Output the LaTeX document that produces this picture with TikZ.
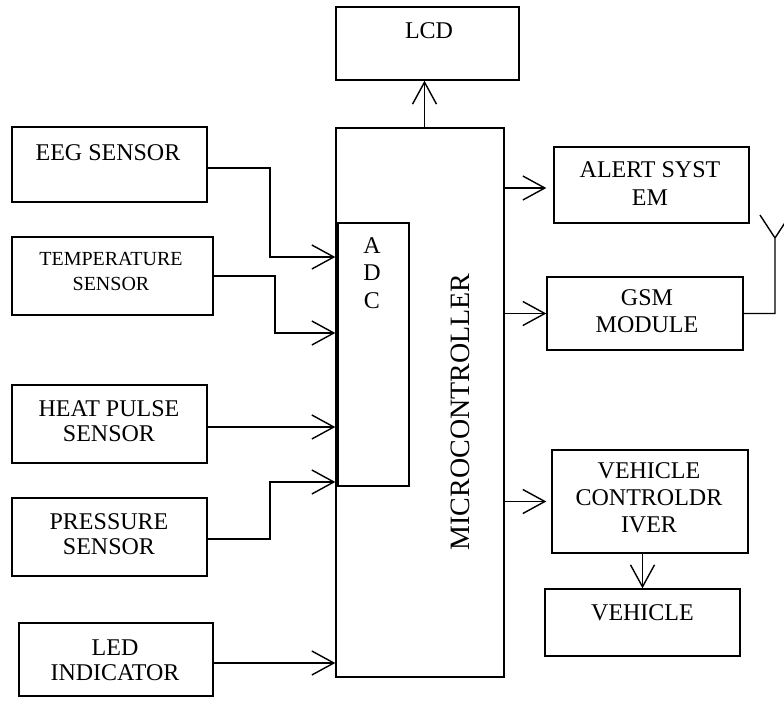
\documentclass[tikz,border=0pt]{standalone}
\usepackage{fontspec}
\setmainfont{Liberation Serif}
\usetikzlibrary{arrows.meta}

\tikzset{
  blk/.style={draw,inner sep=0pt},
  txt/.style={align=center,font=\fontsize{12}{12.5}\selectfont}
}

\begin{document}
\begin{tikzpicture}[x=0.5pt,y=-0.5pt,line width=0.7pt,
    >={Straight Barb[length=11pt,width=12pt]}]

  \useasboundingbox (0,0) rectangle (784,702);

  % controller and display
  \node[blk,minimum width=91.5pt,minimum height=36.5pt] (lcd) at (427.5,43.5) {};
  \node[txt] (lcdtxt) at (429,31) {LCD};
  \node[blk,minimum width=84pt,minimum height=274.5pt] (mc) at (420,402.5) {};
  \node[blk,minimum width=35.5pt,minimum height=131.5pt] (adc) at (373.5,354.5) {};
  \node[txt,font=\fontsize{12}{13.75}\selectfont] (adctxt) at (372,273) {A\\D\\C};
  \node[txt,font=\fontsize{14}{14}\selectfont,rotate=90] (mctxt) at (460,412) {MICROCONTROLLER};

  % sensors
  \node[blk,minimum width=97.5pt,minimum height=37.5pt] (eeg) at (109.5,164.5) {};
  \node[txt] (eegtxt) at (108,153) {EEG SENSOR};
  \node[blk,minimum width=100.5pt,minimum height=39pt] (temp) at (112.5,276) {};
  \node[txt,font=\fontsize{10}{12.5}\selectfont] (temptxt) at (111,271) {TEMPERATURE\\SENSOR};
  \node[blk,minimum width=97.5pt,minimum height=39pt] (heat) at (109.5,424) {};
  \node[txt] (heattxt) at (109,421) {HEAT PULSE\\SENSOR};
  \node[blk,minimum width=97.5pt,minimum height=39pt] (pres) at (109.5,537) {};
  \node[txt] (prestxt) at (109,534) {PRESSURE\\SENSOR};
  \node[blk,minimum width=97pt,minimum height=36.5pt] (led) at (116,659.5) {};
  \node[txt] (ledtxt) at (115,660) {LED\\INDICATOR};

  % outputs
  \node[blk,minimum width=97.5pt,minimum height=38pt] (alert) at (651.5,185) {};
  \node[txt,font=\fontsize{12}{14}\selectfont] (alerttxt) at (650,184) {ALERT SYST\\EM};
  \node[blk,minimum width=98pt,minimum height=36.5pt] (gsm) at (645,313.5) {};
  \node[txt,font=\fontsize{12}{13.5}\selectfont] (gsmtxt) at (647,311) {GSM\\MODULE};
  \node[blk,minimum width=98pt,minimum height=51.5pt] (vcd) at (650,501.5) {};
  \node[txt,font=\fontsize{12}{13.5}\selectfont] (vcdtxt) at (649,498) {VEHICLE\\CONTROLDR\\IVER};
  \node[blk,minimum width=97.5pt,minimum height=33.5pt] (veh) at (642.5,622.5) {};
  \node[txt] (vehtxt) at (642.5,613) {VEHICLE};

  % inputs
  \draw[->] ([yshift=-1.75pt]eeg.east) -- (270,168) |- (mc.west |- 0,257);
  \draw[->] (temp.east) -- (275,276) |- (mc.west |- 0,333);
  \draw[->] ([yshift=-1.5pt]heat.east) -- (mc.west |- 0,427);
  \draw[->] ([yshift=-1pt]pres.east) -- (270,539) |- (mc.west |- 0,482);
  \draw[->] ([yshift=-1.75pt]led.east) -- (mc.west |- 0,663);

  % outputs
  \coordinate (up) at ([xshift=2.25pt]mc.north);
  \draw[->] (up) -- (up |- lcd.south);
  \draw[->] (mc.east |- 0,188) -- ([shift={(-3.5pt,-1.5pt)}]alert.west);
  \draw[->] (gsm.west -| mc.east) -- (gsm.west);
  \draw[->] (vcd.west -| mc.east) -- ([xshift=-2.5pt]vcd.west);
  \draw[->] (vcd.south -| veh.north) -- (veh.north);

  % antenna
  \coordinate (ant) at (775,238);
  \draw (gsm.east) -| (ant) -- (760,215) (ant) -- (790,215);

\end{tikzpicture}
\end{document}
